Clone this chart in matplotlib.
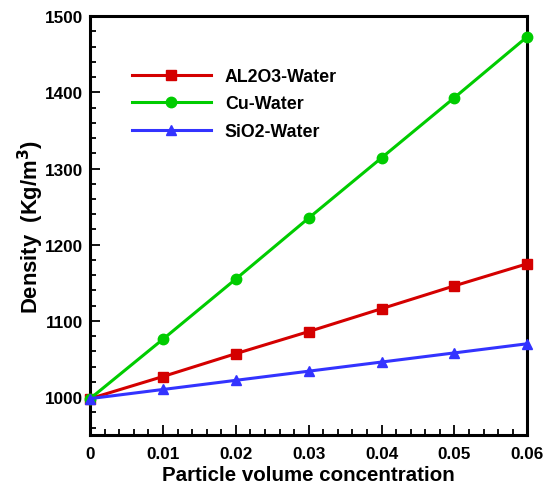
import matplotlib
matplotlib.use("Agg")
import matplotlib.pyplot as plt
from matplotlib.ticker import MultipleLocator, FuncFormatter

plt.rcParams['font.family'] = ['Liberation Sans', 'DejaVu Sans']
plt.rcParams['font.weight'] = 'bold'

# nanofluid density vs particle volume fraction
phi = [0, 0.01, 0.02, 0.03, 0.04, 0.05, 0.06]
al2o3 = [998, 1027, 1057, 1086, 1116, 1146, 1175]
cu = [998, 1076, 1155, 1235, 1314, 1393, 1473]
sio2 = [998, 1010, 1022, 1034, 1046, 1058, 1070]

series = [
    ('AL2O3-Water', al2o3, '#d40000', 's'),
    ('Cu-Water', cu, '#00cc00', 'o'),
    ('SiO2-Water', sio2, '#3333ff', '^'),
]


def x_label(v, pos):
    if abs(v) < 1e-9:
        return '0'
    return '%.2f' % v


def main():
    fig = plt.figure(figsize=(5.43, 4.89), dpi=100)
    ax = fig.add_axes([0.166, 0.108, 0.805, 0.857])

    for name, vals, color, marker in series:
        ax.plot(phi, vals, color=color, marker=marker, lw=2.2, ms=7.5,
                label=name, clip_on=False, zorder=3)

    ax.set_xlim(0, 0.06)
    ax.set_ylim(950, 1500)
    ax.xaxis.set_major_locator(MultipleLocator(0.01))
    ax.xaxis.set_minor_locator(MultipleLocator(0.002))
    ax.yaxis.set_major_locator(MultipleLocator(100))
    ax.yaxis.set_minor_locator(MultipleLocator(20))
    ax.xaxis.set_major_formatter(FuncFormatter(x_label))
    ax.set_yticks([1000, 1100, 1200, 1300, 1400, 1500])

    ax.tick_params(which='both', direction='in', top=False, right=False,
                   width=1.3, labelsize=12.3)
    ax.tick_params(axis='y', pad=5)
    ax.tick_params(axis='x', pad=8)
    ax.tick_params(which='major', length=7)
    ax.tick_params(which='minor', length=4)
    for lab in ax.get_xticklabels() + ax.get_yticklabels():
        lab.set_fontweight('bold')
    for sp in ax.spines.values():
        sp.set_linewidth(2.2)

    ax.set_xlabel('Particle volume concentration', fontsize=14.8,
                  fontweight='bold', labelpad=3)
    ax.set_ylabel(r'Density  (Kg/m$^\mathbf{3}$)', fontsize=15.8,
                  fontweight='bold', labelpad=-1)

    ax.legend(loc='upper left', bbox_to_anchor=(0.06, 0.915), frameon=False,
              handlelength=4.4, labelspacing=0.6, handletextpad=0.8,
              prop={'weight': 'bold', 'size': 12.8})

    fig.savefig('out.png', dpi=100)


if __name__ == "__main__":
    main()
